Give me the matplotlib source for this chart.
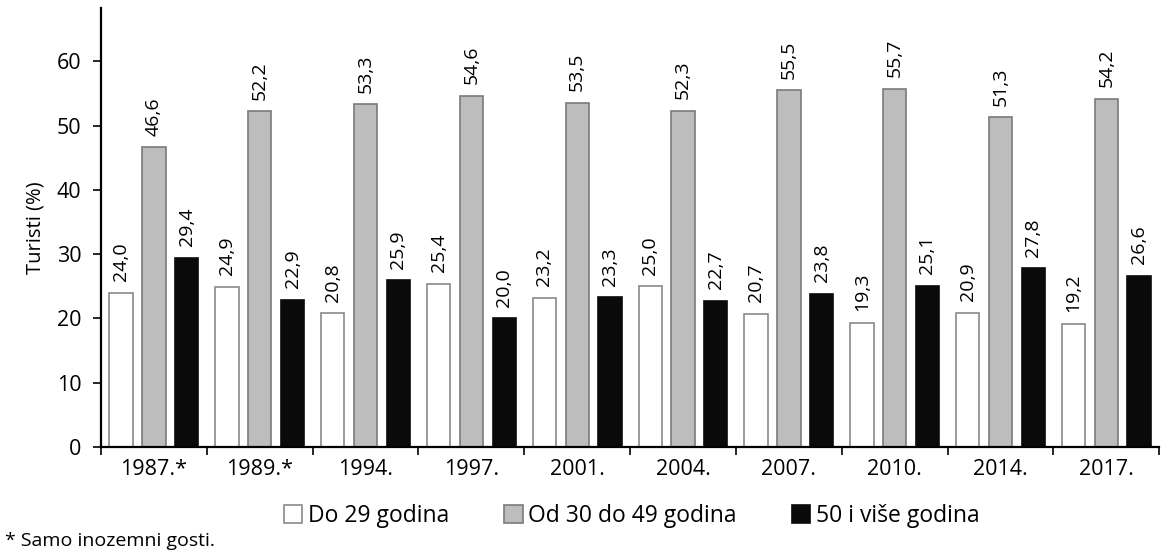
import numpy as np
import matplotlib.pyplot as plt

plt.rcParams['font.family'] = ['Open Sans', 'DejaVu Sans']

years = ['1987.*', '1989.*', '1994.', '1997.', '2001.', '2004.', '2007.', '2010.', '2014.', '2017.']
do_29 = [24.0, 24.9, 20.8, 25.4, 23.2, 25.0, 20.7, 19.3, 20.9, 19.2]
od_30_49 = [46.6, 52.2, 53.3, 54.6, 53.5, 52.3, 55.5, 55.7, 51.3, 54.2]
od_50 = [29.4, 22.9, 25.9, 20.0, 23.3, 22.7, 23.8, 25.1, 27.8, 26.6]
series_names = ['Do 29 godina', 'Od 30 do 49 godina', '50 i više godina']

fig = plt.figure(figsize=(11.68, 5.53), dpi=100)
ax = fig.add_axes([0.0865, 0.1917, 0.906, 0.794])

x = np.arange(len(years))
width = 0.22
offsets = [-0.31, 0.0, 0.31]
faces = ['white', '#bdbdbd', '#0a0a0a']
edges = ['#8a8a8a', '#7a7a7a', '#0a0a0a']

for vals, off, fc, ec, name in zip([do_29, od_30_49, od_50], offsets, faces, edges, series_names):
    bars = ax.bar(x + off, vals, width, color=fc, edgecolor=ec, linewidth=1.2, label=name)
    for b, v in zip(bars, vals):
        ax.text(b.get_x() + b.get_width() / 2, v + 1.8, f'{v:.1f}'.replace('.', ','),
                rotation=90, ha='center', va='bottom', fontsize=14)

ax.set_xlim(-0.5, len(years) - 0.5)
ax.set_ylim(0, 68.3)
ax.set_yticks(range(0, 61, 10))
ax.tick_params(axis='y', labelsize=15.5, length=6, width=1.2, pad=8)

ax.set_xticks(x)
ax.set_xticklabels(years, fontsize=15.5)
ax.set_xticks(np.arange(-0.5, len(years), 1), minor=True)
ax.tick_params(axis='x', which='major', length=0, pad=9)
ax.tick_params(axis='x', which='minor', length=6, width=1.2)

for s in ['top', 'right']:
    ax.spines[s].set_visible(False)
for s in ['left', 'bottom']:
    ax.spines[s].set_linewidth(1.6)

ax.set_ylabel('Turisti (%)', fontsize=14.5, labelpad=8)

fig.legend(loc='center', bbox_to_anchor=(0.541, 0.067), ncol=3, frameon=False,
           fontsize=16.5, handlelength=0.8, handleheight=0.8, handletextpad=0.25,
           columnspacing=2.4)
fig.text(0.004, 0.022, '* Samo inozemni gosti.', fontsize=14, ha='left', va='center')

fig.savefig('out.png', dpi=100)
